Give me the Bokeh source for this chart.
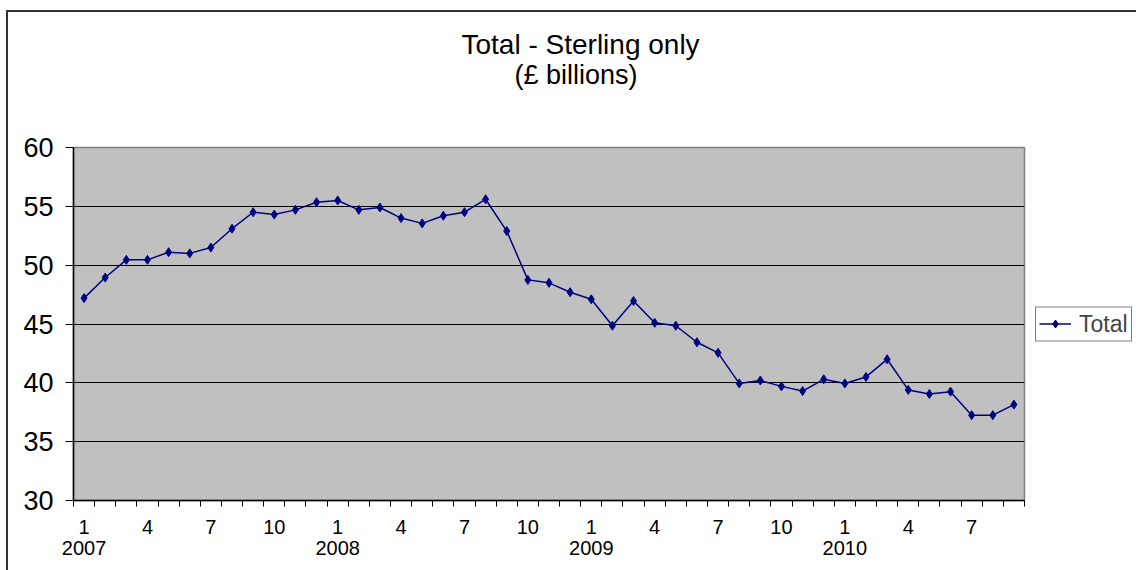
from bokeh.plotting import figure
from bokeh.models import Range1d, FixedTicker, LinearAxis, Title, Legend, LegendItem
from bokeh.embed import file_html
from bokeh.resources import INLINE

# ---- data ----
years = [2007] * 12 + [2008] * 12 + [2009] * 12 + [2010] * 9
months = [1, 2, 3, 4, 5, 6, 7, 8, 9, 10, 11, 12,
          1, 2, 3, 4, 5, 6, 7, 8, 9, 10, 11, 12,
          1, 2, 3, 4, 5, 6, 7, 8, 9, 10, 11, 12,
          1, 2, 3, 4, 5, 6, 7, 8, 9]
total = [47.2, 48.95, 50.45, 50.45, 51.1, 51.0, 51.5, 53.1, 54.5, 54.3, 54.7, 55.35,
         55.5, 54.7, 54.9, 54.0, 53.55, 54.2, 54.5, 55.6, 52.9, 48.75, 48.5, 47.7,
         47.1, 44.85, 46.95, 45.1, 44.85, 43.45, 42.55, 39.95, 40.2, 39.7, 39.3, 40.3,
         39.95, 40.5, 42.0, 39.4, 39.05, 39.25, 37.25, 37.25, 38.15]
shown_months = [1, 4, 7, 10]
y_ticks = [30, 35, 40, 45, 50, 55, 60]
title_lines = ["Total - Sterling only", "(£ billions)"]
series_name = "Total"

FONT = "Liberation Sans"
NAVY = "#000080"

n = len(total)
xs = [i + 0.5 for i in range(n)]

p = figure(frame_width=951, frame_height=353,
           x_range=Range1d(0, n), y_range=Range1d(y_ticks[0], y_ticks[-1]),
           output_backend="svg", toolbar_location=None,
           min_border_left=65, min_border_right=112,
           min_border_top=135, min_border_bottom=70)
p.margin = (10, 0, 0, 6)
p.styles = {"border-top": "2px solid #333333", "border-left": "2px solid #333333"}

p.background_fill_color = "#C0C0C0"
p.border_fill_color = "white"
p.outline_line_color = "#808080"
p.outline_line_width = 1.5

p.xgrid.visible = False
p.ygrid.ticker = FixedTicker(ticks=y_ticks[1:-1])
p.ygrid.grid_line_color = "black"
p.ygrid.grid_line_width = 1

# y axis
ya = p.yaxis[0]
ya.ticker = FixedTicker(ticks=y_ticks)
ya.major_tick_out = 8
ya.major_tick_in = 0
ya.minor_tick_line_color = None
ya.major_tick_line_color = "black"
ya.axis_line_color = "black"
ya.axis_line_width = 1.5
ya.major_label_text_font = FONT
ya.major_label_text_font_size = "27px"
ya.major_label_text_color = "black"
ya.major_label_standoff = 12

# x axis: month labels + boundary ticks
label_pos = [xs[i] for i in range(n) if months[i] in shown_months]
label_txt = {xs[i]: str(months[i]) for i in range(n) if months[i] in shown_months}
xa = p.xaxis[0]
xa.ticker = FixedTicker(ticks=label_pos, minor_ticks=list(range(n + 1)))
xa.major_label_overrides = label_txt
xa.major_tick_line_color = None
xa.major_tick_out = 0
xa.major_tick_in = 0
xa.minor_tick_out = 6
xa.minor_tick_in = 0
xa.minor_tick_line_color = "black"
xa.axis_line_color = "black"
xa.axis_line_width = 1.5
xa.major_label_text_font = FONT
xa.major_label_text_font_size = "20px"
xa.major_label_text_color = "black"
xa.major_label_standoff = 13

# year labels axis
year_pos = [xs[i] for i in range(n) if months[i] == 1]
year_txt = {xs[i]: str(years[i]) for i in range(n) if months[i] == 1}
ya2 = LinearAxis(ticker=FixedTicker(ticks=year_pos), major_label_overrides=year_txt,
                 axis_line_color=None, major_tick_line_color=None, minor_tick_line_color=None,
                 major_tick_out=0, major_tick_in=0,
                 major_label_text_font=FONT, major_label_text_font_size="20px",
                 major_label_text_color="black", major_label_standoff=4)
p.add_layout(ya2, "below")

line_r = p.line(xs, total, line_color=NAVY, line_width=1.5)
pts_r = p.scatter(xs, total, marker="diamond", size=9, fill_color=NAVY, line_color=NAVY)

legend = Legend(items=[LegendItem(label=series_name, renderers=[line_r, pts_r])],
                location="center_left", border_line_color="black", border_line_width=1,
                background_fill_color="white", background_fill_alpha=1,
                label_text_font=FONT, label_text_font_size="23px",
                glyph_width=32, glyph_height=20, padding=3, margin=11, label_standoff=8)
p.add_layout(legend, "right")

# titles: spacer nearest the frame, then the two title lines
spacer = Title(text=" ", text_font_size="1px", align="left")
t2 = Title(text=title_lines[1], align="left", offset=441,
           text_font=FONT, text_font_size="27px", text_font_style="normal",
           text_color="black")
t1 = Title(text=title_lines[0], align="left", offset=388,
           text_font=FONT, text_font_size="28px", text_font_style="normal",
           text_color="black")
if "standoff" in Title.properties():
    spacer.standoff = 55
    t2.standoff = 0
    t1.standoff = -5
p.add_layout(spacer, "above")
p.add_layout(t2, "above")
p.add_layout(t1, "above")

open("out.html", "w").write(file_html(p, INLINE))
